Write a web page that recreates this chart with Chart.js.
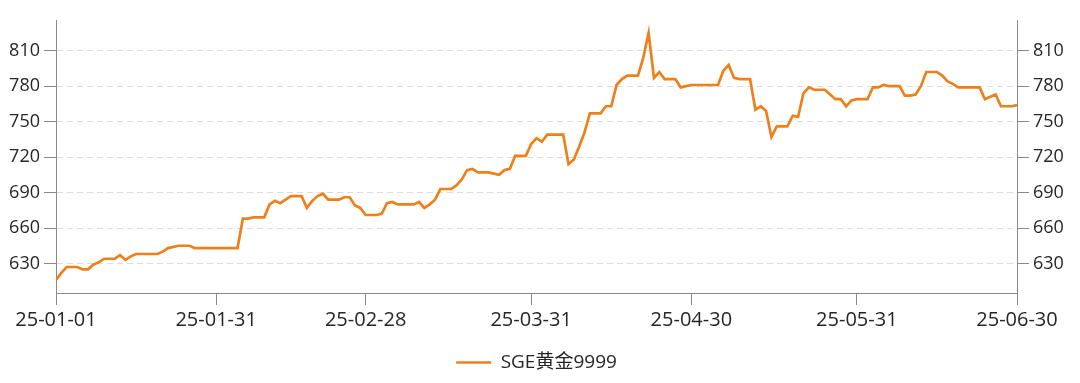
<!DOCTYPE html>
<html>
<head>
<meta charset="utf-8">
<script src="https://cdn.jsdelivr.net/npm/chart.js@4/dist/chart.umd.min.js"></script>
<style>
  html, body { margin: 0; padding: 0; background: #fff; }
  #wrap { width: 1080px; height: 383px; position: relative; }
</style>
</head>
<body>
<div id="wrap"><canvas id="c"></canvas></div>
<script>
const seriesName = 'SGE黄金9999';
const dayTicks = [0, 30, 58, 89, 119, 150, 180];
const dayLabels = ['25-01-01', '25-01-31', '25-02-28', '25-03-31', '25-04-30', '25-05-31', '25-06-30'];
const yTicks = [630, 660, 690, 720, 750, 780, 810];
const prices = [
  616,622,627,627,627,625,625,629,631,634,
  634,634,637,633,636,638,638,638,638,638,
  640,643,644,645,645,645,643,643,643,643,
  643,643,643,643,643,668,668,669,669,669,
  680,683,681,684,687,687,687,677,683,687,
  689,684,684,684,686,686,679,677,671,671,
  671,672,681,682,680,680,680,680,682,677,
  680,684,693,693,693,696,701,709,710,707,
  707,707,706,705,709,710,721,721,721,731,
  736,733,739,739,739,739,714,718,729,741,
  757,757,757,763,763,781,786,789,789,789,
  804,825,787,792,786,786,786,779,780,781,
  781,781,781,781,781,793,798,787,786,786,
  786,760,763,759,737,746,746,746,755,754,
  774,779,777,777,777,773,769,769,763,768,
  769,769,769,779,779,781,780,780,780,772,
  772,773,780,792,792,792,789,784,782,779,
  779,779,779,779,769,771,773,763,763,763,764
];

const points = prices.map((v, i) => ({ x: i, y: v }));
const yFont = { family: '"Open Sans", "Noto Sans", sans-serif', size: 18 };
const xFont = { family: '"Open Sans", "Noto Sans", sans-serif', size: 20 };
const axisColor = '#8a8a8a';
const textColor = '#262626';

function yAxis(position, showGrid) {
  return {
    type: 'linear',
    position: position,
    min: 605,
    max: 836,
    afterBuildTicks: (ax) => { ax.ticks = yTicks.map(v => ({ value: v })); },
    afterFit: (ax) => { ax.width = 50; },
    border: { display: true, color: axisColor, width: 1, dash: [6, 4] },
    grid: {
      display: true,
      drawOnChartArea: showGrid,
      color: '#dcdcdc',
      tickColor: axisColor,
      tickLength: 12,
      tickBorderDash: []
    },
    ticks: { color: textColor, font: yFont, padding: 4 }
  };
}

new Chart(document.getElementById('c'), {
  type: 'line',
  data: {
    datasets: [{
      label: seriesName,
      data: points,
      borderColor: '#ee801c',
      backgroundColor: '#ee801c',
      borderWidth: 2.7,
      pointRadius: 0,
      tension: 0,
      yAxisID: 'y'
    }]
  },
  options: {
    responsive: true,
    maintainAspectRatio: false,
    animation: false,
    layout: { padding: { left: 6, right: 13, top: 20, bottom: 1 } },
    plugins: {
      tooltip: { enabled: false },
      legend: {
        position: 'bottom',
        labels: {
          color: textColor,
          font: { family: '"Open Sans", "Noto Sans CJK SC", sans-serif', size: 19 },
          usePointStyle: true,
          pointStyle: 'line',
          pointStyleWidth: 35,
          padding: 10
        }
      }
    },
    scales: {
      x: {
        type: 'linear',
        min: 0,
        max: 180,
        afterBuildTicks: (ax) => { ax.ticks = dayTicks.map(v => ({ value: v })); },
        afterFit: (ax) => { ax.height = 50; },
        border: { display: true, color: axisColor, width: 1 },
        grid: {
          display: true,
          drawOnChartArea: false,
          color: axisColor,
          tickLength: 12
        },
        ticks: {
          color: textColor,
          font: xFont,
          padding: 3,
          maxRotation: 0,
          autoSkip: false,
          callback: (v) => { const i = dayTicks.indexOf(v); return i >= 0 ? dayLabels[i] : ''; }
        }
      },
      y: yAxis('left', true),
      y2: yAxis('right', false)
    }
  }
});
</script>
</body>
</html>
